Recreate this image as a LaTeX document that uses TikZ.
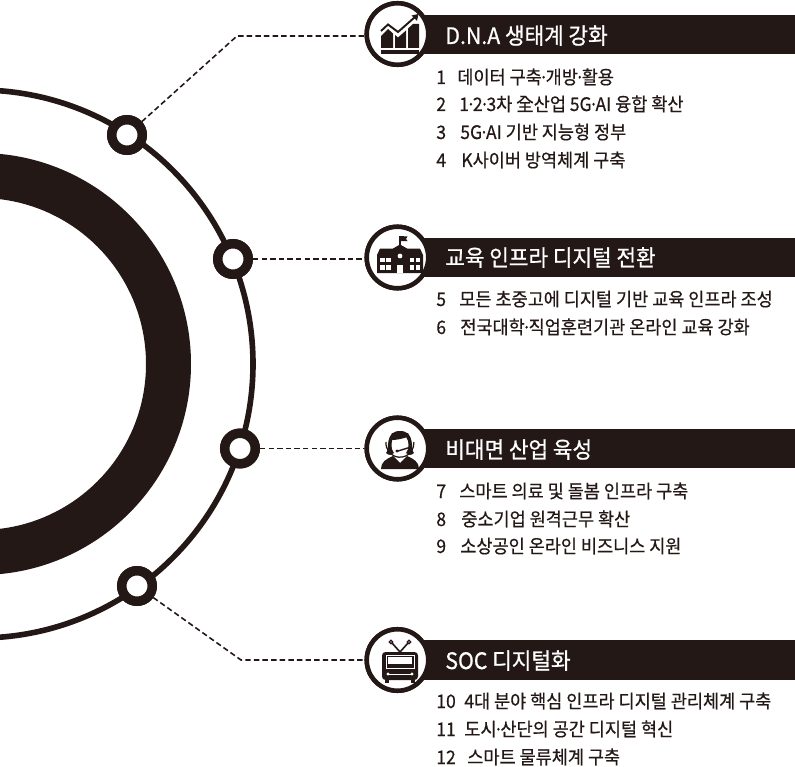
\documentclass[tikz,border=0pt]{standalone}
\usepackage{fontspec}
\setmainfont[FakeStretch=0.94,FakeBold=0.45]{Noto Sans CJK KR}
\newfontfamily\titlefont[FakeStretch=0.94,FakeBold=0.8]{Noto Sans CJK KR}
\usetikzlibrary{positioning}
\definecolor{ink}{HTML}{231815}
\newcommand{\mdot}{\hspace{-0.16em}·\hspace{-0.16em}}
\tikzset
{
    hubnode/.style   = {circle, draw=ink, fill=white, line width=5.4pt, minimum size=0.61cm, inner sep=0pt},
    iconnode/.style  = {circle, draw=ink, fill=white, line width=2.6pt, minimum size=1.23cm, inner sep=0pt},
    banner/.style    = {fill=ink, draw=none},
    titlenode/.style = {anchor=base west, inner sep=0pt, text=white, font=\titlefont\fontsize{12.9}{14}\selectfont},
    numnode/.style   = {anchor=base west, inner sep=0pt, text=ink, font=\fontsize{10.6}{12}\selectfont},
    itemnode/.style  = {anchor=base west, inner sep=0pt, text=ink, font=\fontsize{10.6}{12}\selectfont},
    leader/.style    = {draw=ink, line width=0.9pt, dash pattern=on 3.1pt off 1.8pt}
}
\begin{document}
\begin{tikzpicture}[x=0.02cm, y=-0.02cm]
	\useasboundingbox (0,0) rectangle (795,767);
	\clip (0,0) rectangle (795,767);
	% rings
	\fill[ink, even odd rule] (-20,364) circle[radius=211] (-20,364) circle[radius=166];
	\draw[ink, line width=3.2pt] (-21,364) circle[radius=274];
	% bands
	\fill[banner] (400,15) rectangle (795,54);
	\fill[banner] (400,238) rectangle (795,277);
	\fill[banner] (400,429) rectangle (795,468);
	\fill[banner] (400,640) rectangle (795,680);
	% hubs on the ring
	\node[hubnode] (hubdna) at (127,135) {};
	\node[hubnode] (hubedu) at (233,259) {};
	\node[hubnode] (hubbiz) at (240,448.5) {};
	\node[hubnode] (hubsoc) at (137,586) {};
	% icon circles
	\node[iconnode] (icondna) at (397.5,34) {};
	\node[iconnode] (iconedu) at (397.5,257.5) {};
	\node[iconnode] (iconbiz) at (397.5,448.5) {};
	\node[iconnode] (iconsoc) at (397.5,660) {};
	\coordinate (benddna) at (237,36);
	\coordinate (bendsoc) at (241,660);
	% leaders
	\draw[leader] (hubdna) -- (benddna) -- (icondna.west |- benddna);
	\draw[leader] (hubedu) -- (hubedu -| iconedu.west);
	\draw[leader] (hubbiz) -- (iconbiz);
	\draw[leader] (hubsoc) -- (bendsoc) -- (iconsoc);
	\node[hubnode] at (hubdna) {};
	\node[hubnode] at (hubedu) {};
	\node[hubnode] at (hubbiz) {};
	\node[hubnode] at (hubsoc) {};
	\node[iconnode] at (icondna) {};
	\node[iconnode] at (iconedu) {};
	\node[iconnode] at (iconbiz) {};
	\node[iconnode] at (iconsoc) {};
	% chart icon
	\fill[ink] (381,50) rectangle (419,54);
	\fill[ink] (381,48) -- (381,36) -- (388,29) -- (393,33.5) -- (393,48) -- cycle;
	\fill[ink] (395,48) -- (395,35) -- (398,37.5) -- (406,30.5) -- (406,48) -- cycle;
	\fill[ink] (408,48) -- (408,28.5) -- (413,24) -- (419,24) -- (419,48) -- cycle;
	\draw[ink, line width=1.1pt] (381,31) -- (388,24.5) -- (398,32) -- (415,17);
	\fill[ink] (418.5,14) -- (417,21) -- (411.5,15.5) -- cycle;
	% school icon
	\draw[ink, line width=0.7pt] (400,236) -- (400,248);
	\fill[ink] (400.5,236) -- (407.5,236.5) -- (406,239) -- (407.5,241) -- (400.5,241) -- cycle;
	\fill[ink] (377,273) -- (377,255) -- (380,248.5) -- (393,248.5) -- (400,244.5) -- (407,248.5) -- (420,248.5) -- (423,255) -- (423,273) -- cycle;
	\fill[white] (380,258) rectangle (384.5,262);
	\fill[white] (386,258) rectangle (390.5,262);
	\fill[white] (380,265) rectangle (384.5,270);
	\fill[white] (386,265) rectangle (390.5,270);
	\fill[white] (409.5,258) rectangle (414,262);
	\fill[white] (415.5,258) rectangle (420,262);
	\fill[white] (409.5,265) rectangle (414,270);
	\fill[white] (415.5,265) rectangle (420,270);
	\fill[white] (397,265) rectangle (403,273);
	\fill[white] (400,256) circle[radius=2.4];
	% person icon
	\draw[ink, line width=0.7pt] (386,442) arc[start angle=185, end angle=-5, radius=14];
	\fill[ink] (381,469) .. controls (381,462) and (386,459) .. (393,456) -- (400,463) -- (407,456) .. controls (414,459) and (419,462) .. (419,469) -- cycle;
	\fill[ink] (386,453) .. controls (390,450) and (384,431) .. (400,431) .. controls (416,431) and (410,450) .. (414,453) .. controls (411,456) and (408,455) .. (406,453) -- (394,453) .. controls (392,455) and (389,456) .. (386,453) -- cycle;
	\fill[white] (400,445) ellipse[x radius=8.5, y radius=11];
	\fill[ink] (391,440) .. controls (396,440) and (404,439) .. (409,436) -- (408,433) -- (392,433) -- cycle;
	\draw[ink, line width=0.8pt] (411,447) -- (398,451);
	\fill[ink] (397,451) circle[radius=1.6];
	% tv icon
	\draw[ink, line width=0.9pt] (400,652) -- (392,643);
	\draw[ink, line width=0.9pt] (400,652) -- (408,643);
	\draw[ink, line width=0.7pt, fill=white] (391,642) circle[radius=1.8];
	\draw[ink, line width=0.7pt, fill=white] (409,642) circle[radius=1.8];
	\fill[ink, rounded corners=2] (382,652) rectangle (418,680);
	\fill[ink] (385,680) rectangle (389,683);
	\fill[ink] (411,680) rectangle (415,683);
	\draw[white, line width=0.5pt] (386,655) rectangle (414,668);
	\fill[white] (388,657) rectangle (412,663.5);
	\draw[white, line width=0.5pt] (388,674) -- (412,674);
	\fill[white] (388,674) circle[radius=1.6];
	\fill[white] (412,674) circle[radius=1.6];
	% titles
	\node[titlenode] (titledna) at (445,44) {D.N.A 생태계 강화};
	\node[titlenode] (titleedu) at (445,266) {교육 인프라 디지털 전환};
	\node[titlenode] (titlebiz) at (445,458) {비대면 산업 육성};
	\node[titlenode] (titlesoc) at (445,669) {SOC 디지털화};
	% items
	\node[numnode] (num1) at (436,84) {1};
	\node[itemnode] (item1) at (457,84) {데이터 구축\mdot 개방\mdot 활용};
	\node[numnode] (num2) at (436,111) {2};
	\node[itemnode] (item2) at (459,111) {1\mdot 2\mdot 3차 全산업 5G\mdot AI 융합 확산};
	\node[numnode] (num3) at (436,139) {3};
	\node[itemnode] (item3) at (460,139) {5G\mdot AI 기반 지능형 정부};
	\node[numnode] (num4) at (436,167) {4};
	\node[itemnode] (item4) at (461,167) {K사이버 방역체계 구축};
	\node[numnode] (num5) at (436,306) {5};
	\node[itemnode] (item5) at (459,306) {모든 초중고에 디지털 기반 교육 인프라 조성};
	\node[numnode] (num6) at (436,334) {6};
	\node[itemnode] (item6) at (460,334) {전국대학\mdot 직업훈련기관 온라인 교육 강화};
	\node[numnode] (num7) at (436,498) {7};
	\node[itemnode] (item7) at (459,498) {스마트 의료 및 돌봄 인프라 구축};
	\node[numnode] (num8) at (436,526) {8};
	\node[itemnode] (item8) at (461,526) {중소기업 원격근무 확산};
	\node[numnode] (num9) at (436,553) {9};
	\node[itemnode] (item9) at (460,553) {소상공인 온라인 비즈니스 지원};
	\node[numnode] (num10) at (436,708) {10};
	\node[itemnode] (item10) at (464,708) {4대 분야 핵심 인프라 디지털 관리체계 구축};
	\node[numnode] (num11) at (436,736) {11};
	\node[itemnode] (item11) at (464,736) {도시\mdot 산단의 공간 디지털 혁신};
	\node[numnode] (num12) at (436,764) {12};
	\node[itemnode] (item12) at (467,764) {스마트 물류체계 구축};
\end{tikzpicture}
\end{document}
